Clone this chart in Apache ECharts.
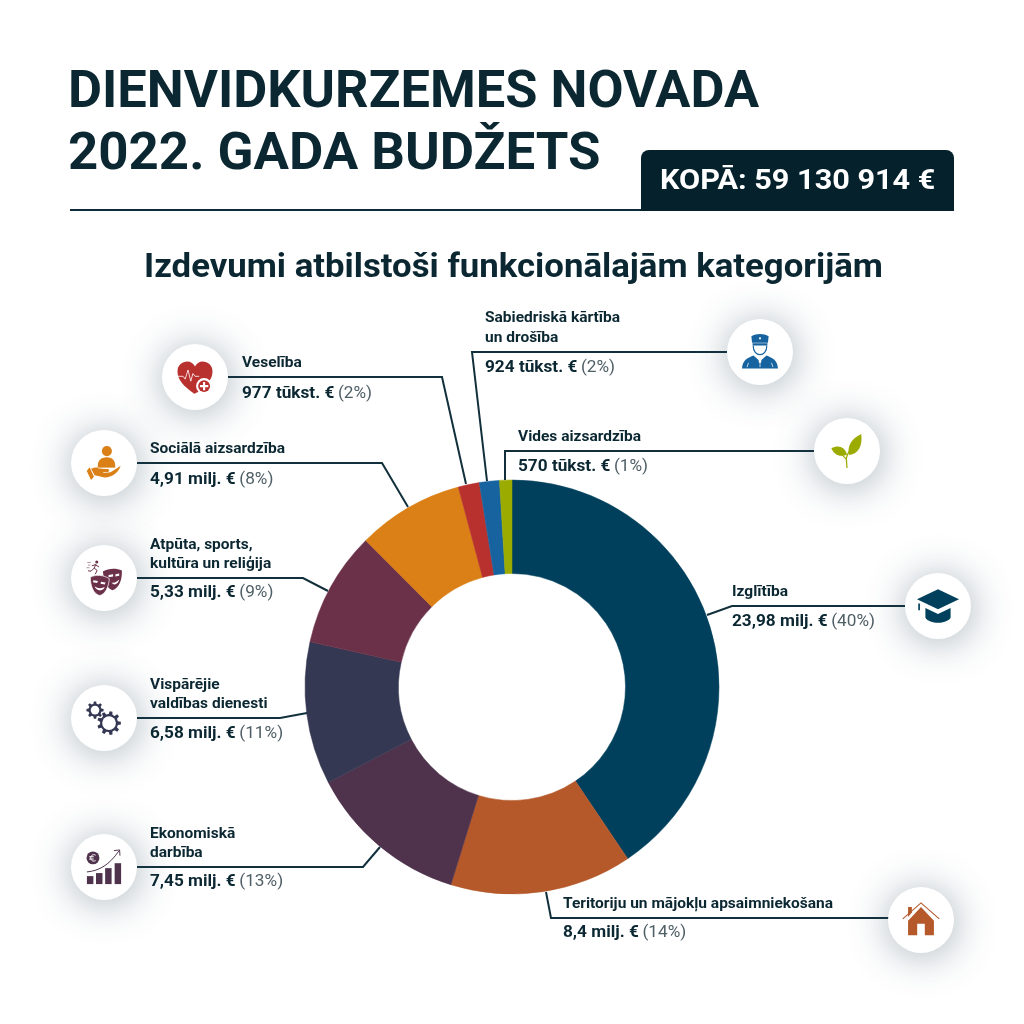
<!DOCTYPE html>
<html><head><meta charset="utf-8">
<style>html,body{margin:0;padding:0;background:#fff}#c{width:1024px;height:1024px}</style>
<script src="https://cdn.jsdelivr.net/npm/echarts@6/dist/echarts.min.js"></script>
</head><body><div id="c"></div>
<script>
// ---------- data ----------
const categories = ['Izglītība','Teritoriju un mājokļu apsaimniekošana','Ekonomiskā\ndarbība','Vispārējie\nvaldības dienesti','Atpūta, sports,\nkultūra un reliģija','Sociālā aizsardzība','Veselība','Sabiedriskā kārtība\nun drošība','Vides aizsardzība'];
const values = [23.98, 8.4, 7.45, 6.58, 5.33, 4.91, 0.977, 0.924, 0.57];
const amountLabels = ['23,98 milj. €','8,4 milj. €','7,45 milj. €','6,58 milj. €','5,33 milj. €','4,91 milj. €','977 tūkst. €','924 tūkst. €','570 tūkst. €'];
const percentLabels = ['(40%)','(14%)','(13%)','(11%)','(9%)','(8%)','(2%)','(2%)','(1%)'];
const titleLines = ['DIENVIDKURZEMES NOVADA','2022. GADA BUDŽETS'];
const totalLabel = 'KOPĀ: 59 130 914 €';
const subtitle = 'Izdevumi atbilstoši funkcionālajām kategorijām';

// ---------- styles / layout ----------
const colors = ['#00405C','#B5582A','#4F334D','#353852','#6B3148','#DA8016','#B8312F','#16639F','#9CAB00'];
const INK = '#0B2732', FONT = 'Roboto';
const nameY = [[592],[904],[834,853],[685,704],[545,564],[449],[363],[318,338],[437]];
const amountY = [621.5,933,882,734,593,479.5,393.5,367.5,466.5];
const labelX = [732,563,150,150,150,150,242,485,518];
const leaders = [
 [[707,615],[732,606],[905,606]],
 [[546,892],[551,918],[889,918]],
 [[380,847],[363,867],[137,867]],
 [[307,713],[280,718],[137,718]],
 [[328,591],[303,578],[137,578]],
 [[408,507],[382,463],[137,463]],
 [[466,484],[442,377],[228,377]],
 [[487,481],[472,352],[727,352]],
 [[505,480],[505,451],[814,451]]
];
const iconCentres = [[938,606],[921,920],[104,867],[104,718],[104,578],[104,463],[195,377],[760,352],[847,451]];

function gear(cx,cy,r,n){
  let d='';
  const step=Math.PI*2/n;
  for(let i=0;i<n;i++){
    const a=i*step;
    const pts=[[a-step*.3,r*.76],[a-step*.17,r],[a+step*.17,r],[a+step*.3,r*.76]];
    pts.forEach((p,j)=>{d+=((i===0&&j===0)?'M':'L')+(cx+p[1]*Math.cos(p[0])).toFixed(1)+' '+(cy+p[1]*Math.sin(p[0])).toFixed(1);});
  }
  return d+'Z';
}
function disc(cx,cy,r){return `M${cx-r} ${cy}A${r} ${r} 0 1 1 ${cx+r} ${cy}A${r} ${r} 0 1 1 ${cx-r} ${cy}Z`;}

// each icon: layers in a 0-100 box
const icons = [
 [ // graduation cap
  {f:0,d:'M50 10L100 34L50 58L0 34Z'},
  {f:0,d:'M20 55L50 69L80 55L80 78C70 94 30 94 20 78Z'},
  {f:0,d:'M3 44L7 44L7 60L3 60Z'}
 ],
 [ // house
  {f:1,d:'M16 52L50 16L84 52L84 90L60 90L60 60L40 60L40 90L16 90Z'},
  {f:1,d:'M16 16L26 16L26 30L16 42Z'},
  {s:1,w:1.2,d:'M2 47L50 5L98 47'}
 ],
 [ // economic
  {f:2,d:disc(21,26,17)},
  {t:'#fff',d:'M28 19C21 15 15 20 15 26C15 32 21 37 28 33M11 23L23 23M11 29L23 29',w:1.1},
  {s:2,w:1.1,d:'M5 63C38 60 64 44 89 8'},
  {s:2,w:1.1,d:'M76 7L91 5L92 20'},
  {f:2,d:'M5 74L22 74L22 95L5 95Z'},
  {f:2,d:'M29 66L46 66L46 95L29 95Z'},
  {f:2,d:'M53 53L70 53L70 95L53 95Z'},
  {f:2,d:'M78 40L95 40L95 95L78 95Z'}
 ],
 [ // gears
  {f:3,d:gear(25,28,24,8)},
  {t:'#fff',fillw:1,d:disc(25,28,12)},
  {f:3,d:gear(64,64,33,9)},
  {t:'#fff',fillw:1,d:disc(64,64,19)}
 ],
 [ // masks and runner
  {f:4,d:'M47 33C62 24 82 24 97 30C98 55 90 76 72 82C58 78 50 58 47 33Z'},
  {t:'#fff',fillw:1,d:'M62 42L74 40L74 46L62 48ZM80 40L90 38L90 44L80 46ZM70 62C78 64 84 60 90 54C88 66 76 72 70 62Z'},
  {f:4,d:'M14 48C28 40 50 42 64 52C62 76 52 94 38 96C22 92 14 70 14 48Z'},
  {t:'#fff',w:.8,d:'M14 48C28 40 50 42 64 52C62 76 52 94 38 96C22 92 14 70 14 48Z'},
  {t:'#fff',fillw:1,d:'M22 56L34 58L32 63L21 61ZM42 60L54 62L52 67L41 65ZM25 72C33 78 44 78 52 74C48 86 30 86 25 72Z'},
  {f:4,d:disc(31,8,4)},
  {s:4,w:1.1,d:'M29 13L24 24L32 30L27 40M24 24L16 32L8 31M27 15L37 21M27 15L18 18'},
  {s:4,w:.6,d:'M6 9L15 9M8 16L14 16M4 23L12 23'}
 ],
 [ // person in hand
  {f:5,d:disc(58,17,14)},
  {f:5,d:'M33 64C31 44 40 34 58 34C74 34 83 44 81 64Z'},
  {f:5,d:'M14 66C26 60 36 62 46 66L60 67C66 68 66 74 60 75L48 76L48 78L68 76L96 58C92 74 72 90 52 90L24 84Z'},
  {f:5,d:'M2 72L10 62L22 88L14 97Z'},
  {t:'#fff',d:'M33 64L81 64',w:.9}
 ],
 [ // heart
  {f:6,d:'M48 98C18 76 0 58 0 34C0 16 14 6 28 6C38 6 46 12 50 20C54 12 62 6 72 6C86 6 100 16 100 34C100 48 94 58 86 66L60 92Z'},
  {t:'#fff',d:'M0 48L16 48L22 56L30 30L38 62L44 40L50 48L62 48',w:.9},
  {t:'#fff',fillw:1,d:disc(76,76,23)},
  {f:6,d:disc(76,76,17)},
  {t:'#fff',fillw:1,d:'M73 64L79 64L79 73L88 73L88 79L79 79L79 88L73 88L73 79L64 79L64 73L73 73Z'}
 ],
 [ // police
  {f:7,d:'M26 6C40 -2 60 -2 74 6L72 24L28 24Z'},
  {f:7,d:'M29 26L71 26L70 32L30 32Z'},
  {s:7,w:1.3,d:'M31 32C31 66 69 66 69 32'},
  {f:7,d:'M0 96C2 74 12 68 32 60L46 72L47 80L53 80L54 72L68 60C88 68 98 74 100 96Z'},
  {t:'#fff',d:'M50 72L50 92M18 80L14 92M82 80L86 92',w:.8},
  {t:'#fff',fillw:1,d:disc(50,12,3)}
 ],
 [ // leaf
  {f:8,d:'M92 0C96 36 84 58 56 62C50 36 62 14 92 0Z'},
  {f:8,d:'M4 42C24 30 44 38 50 60C30 70 12 62 4 42Z'},
  {s:8,w:1.4,d:'M50 100L48 72C50 60 60 44 72 30'},
  {s:8,w:1.2,d:'M48 74C40 64 30 56 20 50'}
 ]
];
const iconSize = [42,38,38,36,38,36,35,36,34];

// ---------- graphic ----------
const g = [];
function text(t,x,y,font,fill,extra){g.push(Object.assign({type:'text',x,y,silent:true,z:10,style:{text:t,font,fill,verticalAlign:'middle',align:'left'}},extra||{}));}

let shapeId=0;
function pathShape(d){
  const name='iconLayer'+(shapeId++);
  echarts.graphic.registerShape(name,echarts.graphic.extendPath(d,{}));
  return name;
}

text(titleLines[0],68,93.5,'700 52px '+FONT,INK,{scaleX:1.007});
text(titleLines[1],68,156,'700 52px '+FONT,INK,{scaleX:1.015});
g.push({type:'rect',silent:true,z:5,shape:{x:70,y:209,width:575,height:2},style:{fill:'#0D2C38'}});
g.push({type:'rect',silent:true,z:5,shape:{x:641,y:150,width:313,height:61,r:[8,8,0,0]},style:{fill:'#05222C'}});
text(totalLabel,660,182,'700 27px '+FONT,'#fff',{scaleX:1.135});
text(subtitle,144,268,'700 34px '+FONT,INK,{scaleX:1.022});

categories.forEach((c,i)=>{
  g.push({type:'polyline',silent:true,z:6,shape:{points:leaders[i]},style:{stroke:'#12303C',lineWidth:2,fill:null}});
  c.split('\n').forEach((ln,k)=>text(ln,labelX[i],nameY[i][k],'700 15.5px '+FONT,INK));
  g.push({type:'text',x:labelX[i],y:amountY[i],scaleX:1.075,silent:true,z:10,style:{
    text:`{a|${amountLabels[i]}} {p|${percentLabels[i]}}`,verticalAlign:'middle',align:'left',
    rich:{a:{font:'700 16px '+FONT,fill:INK},p:{font:'400 16px '+FONT,fill:'#4F5F66'}}}});
  const [cx,cy]=iconCentres[i];
  g.push({type:'circle',silent:true,z:7,shape:{cx,cy,r:33},style:{fill:'#fff',shadowBlur:40,shadowColor:'rgba(40,70,90,.42)',shadowOffsetX:1,shadowOffsetY:3}});
  const s=iconSize[i], k=s/100;
  icons[i].forEach(l=>{
    const color=l.t?l.t:colors[l.f!==undefined?l.f:l.s];
    const isStroke=(l.s!==undefined)||(l.t&&!l.fillw);
    g.push({type:pathShape(l.d),silent:true,z:8,x:cx-s/2,y:cy-s/2,scaleX:k,scaleY:k,
      style:isStroke?{fill:null,stroke:color,lineWidth:(l.w||1)/k*.9}:{fill:color}});
  });
});

const chart = echarts.init(document.getElementById('c'),null,{renderer:'canvas'});
chart.setOption({
  animation:false,
  backgroundColor:'#fff',
  graphic:{elements:g},
  series:[{
    type:'pie',center:[512,687],radius:[113.5,207],startAngle:90,clockwise:true,silent:true,
    label:{show:false},labelLine:{show:false},
    data:categories.map((c,i)=>({name:c.replace('\n',' '),value:values[i],itemStyle:{color:colors[i],borderColor:colors[i],borderWidth:.5}}))
  }]
});
</script></body></html>
